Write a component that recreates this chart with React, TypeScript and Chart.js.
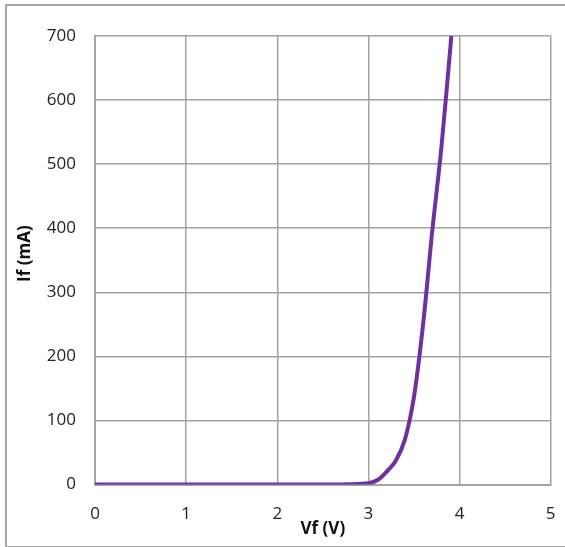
import React, { useEffect, useRef } from "react";
import { Chart, registerables } from "chart.js";

Chart.register(...registerables);

const voltage = [0, 1, 2, 2.5, 2.8, 3.0, 3.1, 3.2, 3.3, 3.4, 3.5, 3.6, 3.7, 3.8, 3.91];
const current = [0, 0, 0, 0, 0.3, 2, 7, 20, 37, 70, 137, 250, 395, 525, 700];
const xTitle = "Vf (V)";
const yTitle = "If (mA)";

export default function App() {
  const ref = useRef<HTMLCanvasElement | null>(null);
  useEffect(() => {
    if (!ref.current) return;
    const font = { family: "'Open Sans', 'Liberation Sans', sans-serif", size: 17 };
    const grid = "#a3a3a3";
    const chart = new Chart(ref.current, {
      type: "scatter",
      data: {
        datasets: [
          {
            data: voltage.map((v, i) => ({ x: v, y: current[i] })),
            showLine: true,
            borderColor: "#7030A0",
            backgroundColor: "#7030A0",
            borderWidth: 4,
            pointRadius: 0,
            tension: 0.3,
          },
        ],
      },
      options: {
        animation: false,
        responsive: true,
        maintainAspectRatio: false,
        layout: { padding: { top: 36, right: 14.3, left: 0, bottom: 0 } },
        plugins: { legend: { display: false }, tooltip: { enabled: false } },
        scales: {
          x: {
            type: "linear",
            min: 0,
            max: 5,
            afterFit: (s: any) => {
              s.height = 62.5;
              s.paddingLeft = 0;
              s.paddingRight = 0;
            },
            ticks: { stepSize: 1, font, color: "#222", padding: 19 },
            grid: { color: grid, lineWidth: 1.5, drawTicks: false },
            border: { color: grid, width: 2 },
            title: {
              display: true,
              text: xTitle,
              font: { ...font, weight: "bold" },
              color: "#111",
              padding: { top: 0, bottom: 8 },
            },
          },
          y: {
            type: "linear",
            min: 0,
            max: 700,
            afterFit: (s: any) => {
              s.width = 95;
              s.paddingTop = 0;
              s.paddingBottom = 0;
            },
            ticks: { stepSize: 100, font, color: "#222", padding: 19 },
            grid: { color: grid, lineWidth: 1.5, drawTicks: false },
            border: { color: grid, width: 2 },
            title: {
              display: true,
              text: "   " + yTitle,
              font: { ...font, weight: "bold" },
              color: "#111",
              padding: { top: 15, bottom: 0 },
            },
          },
        },
      },
    } as any);
    return () => chart.destroy();
  }, []);
  return (
    <div style={{ position: "fixed", left: 0, top: 0, width: 565, height: 547, background: "#fff", overflow: "hidden" }}>
      <div
        style={{
          position: "absolute",
          left: 5,
          top: 4,
          width: 580,
          height: 540,
          border: "2px solid #a8a8a8",
        }}
      />
      <div style={{ position: "absolute", left: 0, top: 0, width: 565, height: 547 }}>
        <canvas ref={ref} />
      </div>
    </div>
  );
}
